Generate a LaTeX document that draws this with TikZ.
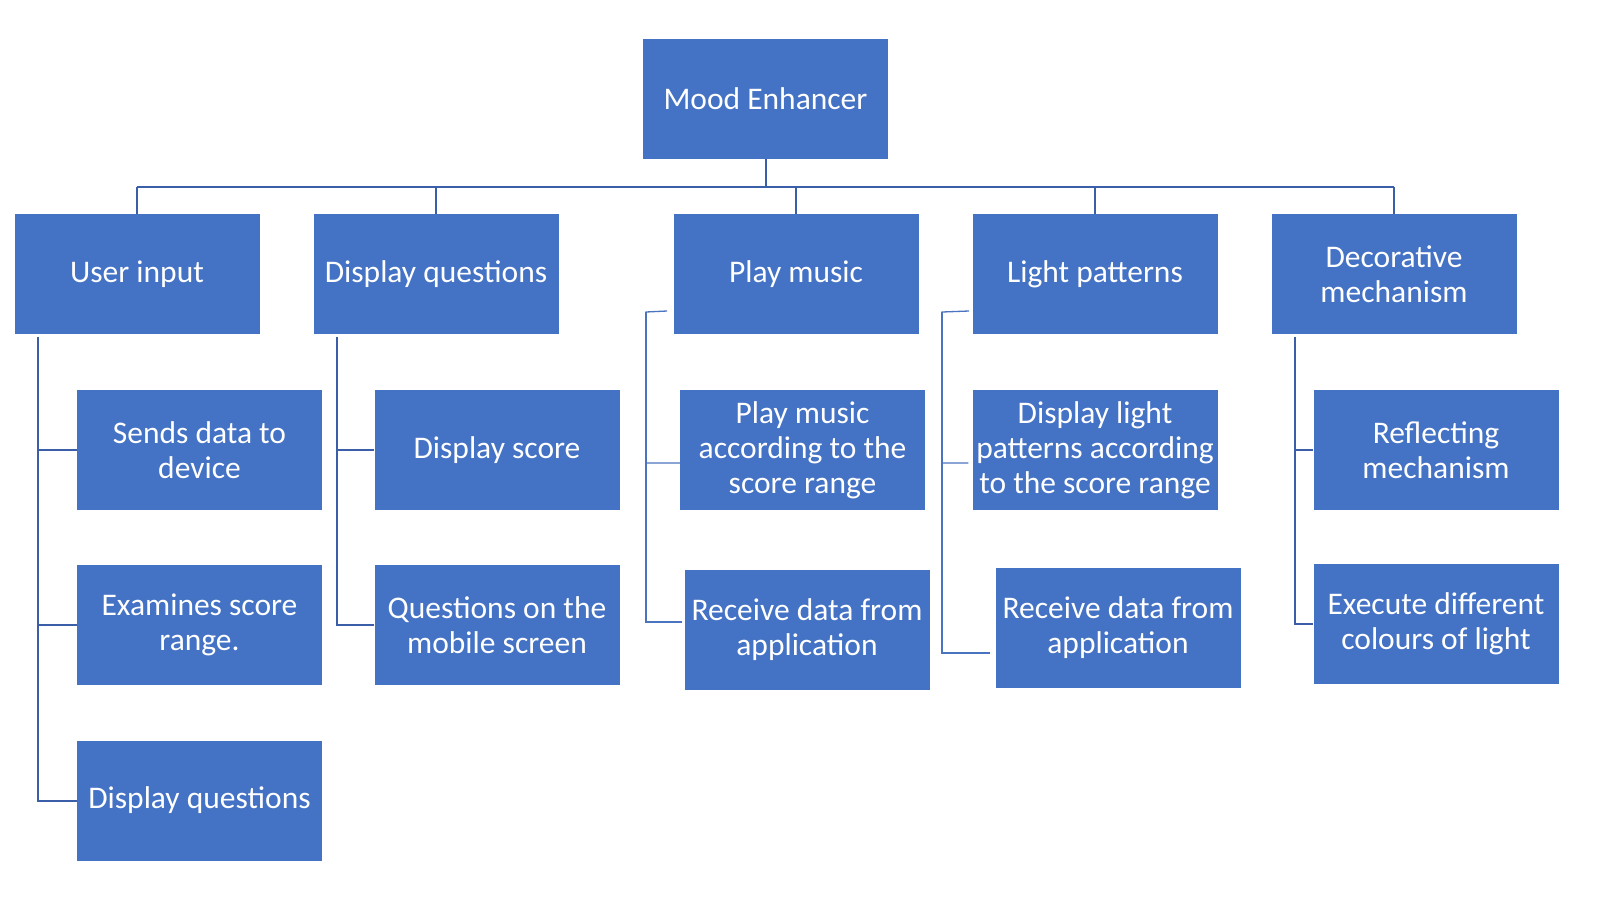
\documentclass[tikz,border=0pt]{standalone}
\usepackage{fontspec}
\setmainfont{Carlito}
\definecolor{boxblue}{HTML}{4472C4}
\definecolor{linedark}{HTML}{3A5FA8}
\definecolor{linelight}{HTML}{4A74C0}
\begin{document}
\begin{tikzpicture}[x=1pt,y=-1pt,
  box/.style={fill=boxblue,draw=none,minimum width=245pt,minimum height=120pt,inner sep=0pt,
    text=white,align=center,font=\fontsize{31.5}{35}\selectfont},
  conn/.style={draw=linedark,line width=2pt},
  thinconn/.style={draw=linelight,line width=1.3pt}]
\useasboundingbox (0,0) rectangle (1600,900);
\fill[white] (0,0) rectangle (1600,900);
% root
\node[box] (root) at (765.5,99) {Mood Enhancer};
% level 1
\node[box] (ui) at (137,274) {User input};
\node[box] (dq) at (436,274) {Display questions};
\node[box] (pm) at (796,274) {Play music};
\node[box] (lp) at (1095,274) {Light patterns};
\node[box] (dm) at (1394,274) {Decorative\\mechanism};
% level 2
\node[box] (uia) at (199.5,450) {Sends data to\\device};
\node[box] (uib) at (199.5,625) {Examines score\\range.};
\node[box] (uic) at (199.5,800.5) {Display questions};
\node[box] (dqa) at (497,450) {Display score};
\node[box] (dqb) at (497,625) {Questions on the\\mobile screen};
\node[box] (pma) at (802.5,450) {Play music\\according to the\\score range};
\node[box] (pmb) at (807,629.5) {Receive data from\\application};
\node[box] (lpa) at (1095,450) {Display light\\patterns according\\to the score range};
\node[box] (lpb) at (1118,627.5) {Receive data from\\application};
\node[box] (dma) at (1436,450) {Reflecting\\mechanism};
\node[box] (dmb) at (1436,623.5) {Execute different\\colours of light};
% bus
\coordinate (busL) at (137,187);
\coordinate (busR) at (1394,187);
\draw[conn] (busL) -- (busR);
\draw[conn] (root.south) -- (root.south |- busL);
\foreach \n in {ui,dq,pm,lp,dm} \draw[conn] (\n.north |- busL) -- (\n.north);
% user input column
\coordinate (uiv) at ([xshift=24pt,yshift=-3pt]ui.south west);
\draw[conn] (uiv) |- (uia.west);
\draw[conn] (uiv) |- (uib.west);
\draw[conn] (uiv) |- (uic.west);
% display questions column
\coordinate (dqv) at ([xshift=24pt,yshift=-3pt]dq.south west);
\draw[conn] (dqv) |- (dqa.west);
\draw[conn] (dqv) |- (dqb.west);
% decorative column
\coordinate (dmv) at ([xshift=24pt,yshift=-3pt]dm.south west);
\draw[conn] (dmv) |- (dma.west);
\draw[conn] (dmv) |- (dmb.west);
% play music column
\coordinate (pmS) at (667,311);
\coordinate (pmV) at (646,312);
\draw[thinconn] (pmS) -- (pmV) |- ([yshift=-13pt]pma.west);
\draw[thinconn] (pmV) |- ([yshift=7.5pt,xshift=-2pt]pmb.west);
% light patterns column
\coordinate (lpS) at (969,311);
\coordinate (lpV) at (942,312);
\draw[thinconn] (lpS) -- (lpV) |- ([yshift=-13pt,xshift=-4pt]lpa.west);
\draw[thinconn] (lpV) |- ([yshift=-25.5pt,xshift=-5pt]lpb.west);
\end{tikzpicture}
\end{document}
